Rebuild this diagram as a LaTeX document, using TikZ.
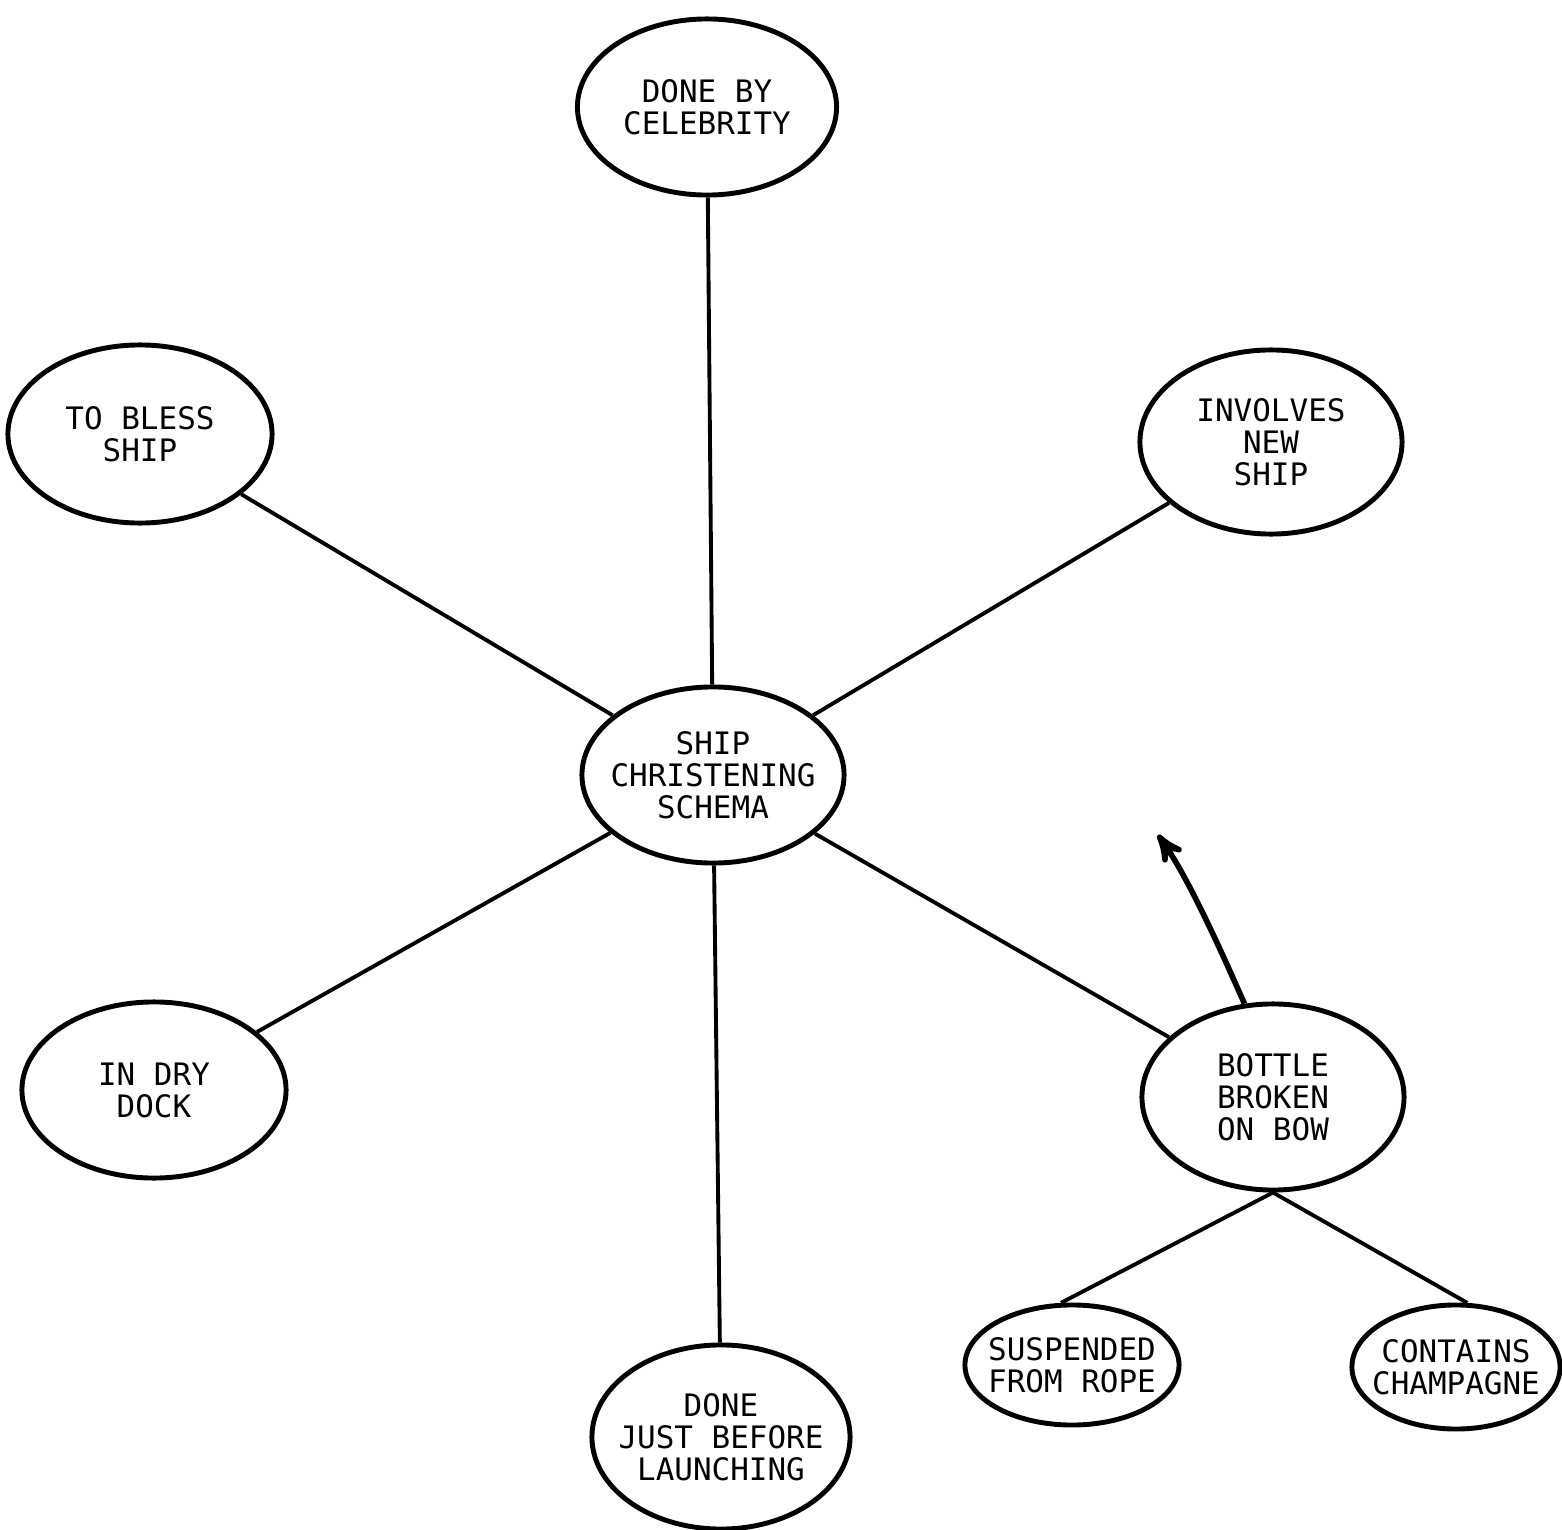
\documentclass[tikz,border=0pt]{standalone}
\usepackage{fontspec}
\setmainfont{DejaVu Sans Mono}
\usepackage{tikz}
\usetikzlibrary{arrows}
\usetikzlibrary{shapes.geometric}

\begin{document}
\begin{tikzpicture}[x=0.01cm,y=-0.01cm,
  bubble/.style={draw,ellipse,line width=1.4pt,inner ysep=0,inner xsep=-0.25cm,align=center,
    font=\fontsize{8.8}{9.1}\selectfont},
  spoke/.style={line width=1.1pt}]
\useasboundingbox (0,0) rectangle (1562,1530);

\node[bubble,minimum width=2.62cm,minimum height=1.76cm] (schema) at (713,775) {SHIP\\CHRISTENING\\SCHEMA};
\node[bubble,minimum width=2.59cm,minimum height=1.76cm] (celeb) at (707,107) {DONE BY\\CELEBRITY};
\node[bubble,minimum width=2.64cm,minimum height=1.78cm] (bless) at (140,434) {TO BLESS\\SHIP};
\node[bubble,minimum width=2.62cm,minimum height=1.84cm] (newship) at (1271,442) {INVOLVES\\NEW\\SHIP};
\node[bubble,minimum width=2.64cm,minimum height=1.76cm] (drydock) at (154,1090) {IN DRY\\DOCK};
\node[bubble,minimum width=2.58cm,minimum height=1.84cm] (launch) at (721,1437) {DONE\\JUST BEFORE\\LAUNCHING};
\node[bubble,minimum width=2.62cm,minimum height=1.86cm] (bottle) at (1273,1097) {BOTTLE\\BROKEN\\ON BOW};
\node[bubble,minimum width=2.14cm,minimum height=1.20cm] (rope) at (1072,1365) {SUSPENDED\\FROM ROPE};
\node[bubble,minimum width=2.08cm,minimum height=1.24cm] (champ) at (1456,1367) {CONTAINS\\CHAMPAGNE};

% spokes out of the schema
\foreach \n in {celeb,bless,newship,drydock,launch,bottle} {
  \draw[spoke] (schema) -- (\n);
}
\draw[spoke] (bottle.south) -- (rope.100);
\draw[spoke] (bottle.south) -- (champ.80);

% pen mark above the bottle
\coordinate (tip) at (1158,835);
\draw[line width=1.6pt,->,>=stealth'] (bottle.107) .. controls (1225,960) and (1190,880) .. (tip);
\end{tikzpicture}
\end{document}
